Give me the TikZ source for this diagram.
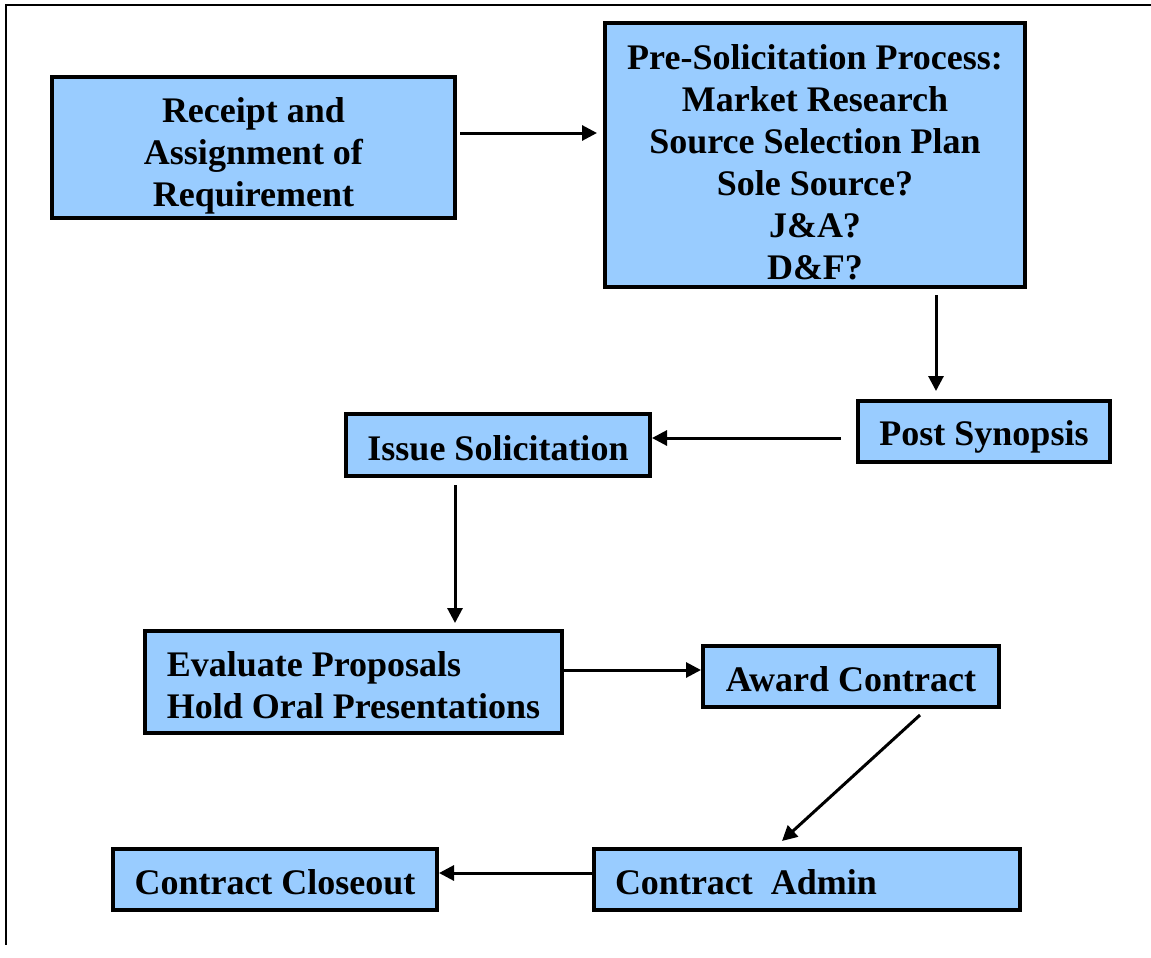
\documentclass[tikz,border=0pt]{standalone}
\usepackage{fontspec}
\setmainfont{Liberation Serif}
\usetikzlibrary{arrows.meta}
\definecolor{boxblue}{RGB}{153,204,255}
\begin{document}
\begin{tikzpicture}[x=0.5pt,y=-0.5pt,
  box/.style={draw=black, line width=2pt, fill=boxblue, inner sep=0pt},
  txt/.style={inner sep=0pt, align=center, font=\fontsize{18pt}{21pt}\selectfont\bfseries},
  arr/.style={draw=black, line width=1.5pt, -{Triangle[length=7.5pt,width=7.5pt]}},
  frame/.style={draw=black, line width=1pt}]
\useasboundingbox (0,0) rectangle (1151,958);
\coordinate (ftop) at (1151,4.5);
\coordinate (fcorner) at (5.5,4.5);
\coordinate (fbot) at (5.5,945);
\draw[frame] (ftop) -- (fcorner) -- (fbot);

\node[box, minimum width=201.5pt, minimum height=70.5pt] (rec) at (253.5,147.5) {};
\node[txt] (rec-t) at ([yshift=-4pt]rec.center) {Receipt and\\Assignment of\\Requirement};

\node[box, minimum width=210pt, minimum height=132pt] (pre) at (815,155) {};
\node[txt] (pre-t) at ([yshift=-3.5pt]pre.center)
  {Pre-Solicitation Process:\\Market Research\\Source Selection Plan\\Sole Source?\\J\&A?\\D\&F?};

\node[box, minimum width=126pt, minimum height=30.5pt] (post) at (984,431.5) {};
\node[txt] (post-t) at ([yshift=-2.5pt]post.center) {Post Synopsis};

\node[box, minimum width=152pt, minimum height=31pt] (issue) at (498,445) {};
\node[txt] (issue-t) at ([yshift=-1.5pt]issue.center) {Issue Solicitation};

\node[box, minimum width=208.5pt, minimum height=51pt] (eval) at (353.5,682) {};
\node[txt, align=left] (eval-t) at ([yshift=-1.75pt]eval.center)
  {Evaluate Proposals\\Hold Oral Presentations};

\node[box, minimum width=148pt, minimum height=30.5pt] (award) at (851,676.5) {};
\node[txt] (award-t) at ([yshift=-1.5pt]award.center) {Award Contract};

\node[box, minimum width=213pt, minimum height=30.5pt] (admin) at (807,879.5) {};
\node[txt, align=left, text width=192pt] (admin-t) at ([yshift=-1.5pt]admin.center)
  {Contract\hspace{9pt}Admin};

\node[box, minimum width=162pt, minimum height=30.5pt] (close) at (275,879.5) {};
\node[txt] (close-t) at ([yshift=-1.5pt]close.center) {Contract Closeout};

\draw[arr] ([xshift=1.5pt,yshift=7.25pt]rec.east) -- ++(68.5pt,0);
\draw[arr] ([xshift=60.5pt,yshift=-3pt]pre.south) -- ([xshift=-24pt,yshift=4pt]post.north);
\draw[arr] ([xshift=-7.5pt,yshift=-3.25pt]post.west) -- ([yshift=3.5pt]issue.east);
\draw[arr] ([xshift=-21.5pt,yshift=-3.5pt]issue.south) -- ([xshift=50.75pt,yshift=3pt]eval.north);
\draw[arr] ([yshift=6pt]eval.east) -- ([yshift=3.25pt]award.west);
\draw[arr] ([xshift=34.5pt,yshift=-3pt]award.south) -- ([xshift=-12.5pt,yshift=3pt]admin.north);
\draw[arr] ([yshift=3.25pt]admin.west) -- ([yshift=3.25pt]close.east);
\end{tikzpicture}
\end{document}
